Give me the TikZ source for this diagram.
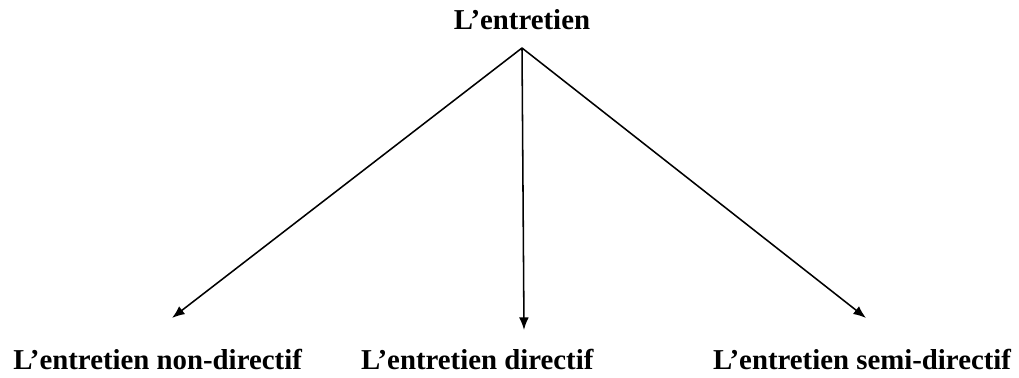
\documentclass[tikz,border=0pt]{standalone}
\usepackage{fontspec}
\setmainfont{Liberation Serif}
\usetikzlibrary{arrows.meta,positioning}

\begin{document}
\begin{tikzpicture}[
  lbl/.style={font=\fontsize{20.5}{24}\selectfont\bfseries, inner sep=0pt},
  arr/.style={-{Latex[length=9pt,width=7pt]}, line width=1.1pt}
]
\useasboundingbox (0,0) rectangle (25.475,9.45);
\node[lbl] (root) at (13.05,8.95) {L’entretien};
\coordinate (apex) at (13.05,8.25);

\node[lbl] (nondir) at (3.94,0.45) {L’entretien non-directif};
\node[lbl] (dir) at (11.93,0.45) {L’entretien directif};
\node[lbl] (semidir) at (21.55,0.45) {L’entretien semi-directif};

\coordinate (t1) at (4.3,1.5);
\coordinate (t2) at (13.1,1.2);
\coordinate (t3) at (21.65,1.5);

\draw[arr] (apex) -- (t1);
\draw[arr] (apex) -- (t2);
\draw[arr] (apex) -- (t3);
\end{tikzpicture}
\end{document}
